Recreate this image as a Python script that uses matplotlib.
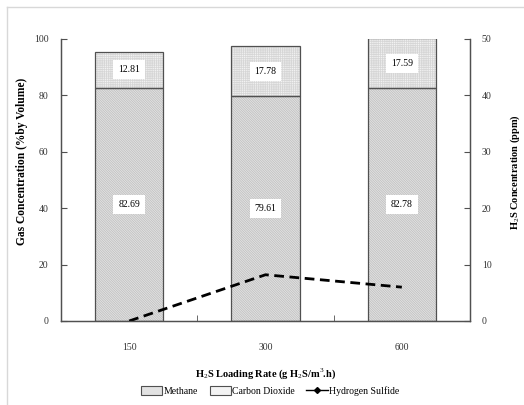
import matplotlib as mpl
import matplotlib.pyplot as plt
from matplotlib.patches import Patch
from matplotlib.lines import Line2D
from matplotlib.legend_handler import HandlerTuple

mpl.rcParams.update({
    "font.family": "serif",
    "font.serif": ["Liberation Serif", "DejaVu Serif"],
    "mathtext.fontset": "custom",
    "mathtext.rm": "Liberation Serif",
    "mathtext.bf": "Liberation Serif:bold",
    "font.size": 7,
    "hatch.linewidth": 0.5,
})

# ── Data ──
loading_rates = ["150", "300", "600"]
methane = [82.69, 79.61, 82.78]
co2 = [12.81, 17.78, 17.59]
h2s = [0.0, 8.2, 6.0]

x = list(range(len(loading_rates)))

fig = plt.figure(figsize=(5.24, 4.05), dpi=100)
ax = fig.add_axes([61/524, 1 - 321/405, (470 - 61)/524, (321 - 39)/405])
ax2 = ax.twinx()

EDGE = "#505050"
W = 0.5
CH4_STYLE = dict(color="#e2e2e2", edgecolor="#bdbdbd", hatch="\\" * 14)
CO2_STYLE = dict(color="#f3f3f3", edgecolor="#d6d6d6", hatch="+" * 9)

# hatch layer first (edge colour = hatch colour), then outline layer
ax.bar(x, methane, W, linewidth=0, **CH4_STYLE)
ax.bar(x, co2, W, bottom=methane, linewidth=0, **CO2_STYLE)
ax.bar(x, methane, W, fill=False, edgecolor=EDGE, linewidth=0.9)
ax.bar(x, co2, W, bottom=methane, fill=False, edgecolor=EDGE, linewidth=0.9)

box = dict(boxstyle="square,pad=0.5", fc="white", ec="none")
for i in x:
    ax.text(i, methane[i] / 2, f"{methane[i]:.2f}", ha="center", va="center",
            fontsize=7, bbox=box, zorder=5)
    top = min(methane[i] + co2[i], 100)
    ax.text(i, (methane[i] + top) / 2, f"{co2[i]:.2f}", ha="center", va="center",
            fontsize=7, bbox=box, zorder=5)

ax.set_xlim(-0.5, 2.5)
ax.set_ylim(0, 100)
ax.set_yticks(range(0, 101, 20))
ax.set_xticks(x)
ax.set_xticklabels(loading_rates)
ax.set_xticks([0.5, 1.5], minor=True)
ax.tick_params(axis="x", which="major", length=0, pad=16, colors="#333333")
ax.tick_params(axis="x", which="minor", direction="in", length=4, color=EDGE)
ax.tick_params(axis="y", direction="in", length=4, pad=9, colors="#333333")
ax.tick_params(axis="y", color=EDGE)

ax2.plot(x, h2s, color="black", linestyle=(0, (3.5, 2)), linewidth=2)
ax2.set_ylim(0, 50)
ax2.set_yticks(range(0, 51, 10))
ax2.tick_params(axis="y", direction="in", length=4, pad=8.5, colors="#333333")
ax2.tick_params(axis="y", color=EDGE)

for a in (ax, ax2):
    a.spines["top"].set_visible(False)
    for s in ("left", "right", "bottom"):
        a.spines[s].set_color(EDGE)
        a.spines[s].set_linewidth(0.9)

ax.set_ylabel("Gas Concentration (%by Volume)", fontsize=8.3, fontweight="bold")
ax.yaxis.set_label_coords(-0.08, 0.567)
ax2.set_ylabel("H$_2$S Concentration (ppm)", fontsize=7.5, fontweight="bold")
ax2.yaxis.set_label_coords(1.093, 0.528)
ax.set_xlabel("H$_2$S Loading Rate (g H$_2$S/m$^3$.h)", fontsize=7.5, fontweight="bold", labelpad=10)

outline = dict(fill=False, edgecolor=EDGE, linewidth=0.8)
handles = [
    (Patch(linewidth=0, **CH4_STYLE), Patch(**outline)),
    (Patch(linewidth=0, **CO2_STYLE), Patch(**outline)),
    Line2D([0], [0], color="black", marker="D", markersize=3, linewidth=1),
]
fig.legend(handles, ["Methane", "Carbon Dioxide", "Hydrogen Sulfide"],
           handler_map={tuple: HandlerTuple(ndivide=1, pad=0)},
           loc="center", bbox_to_anchor=(270/524, 1 - 391/405), ncol=3,
           frameon=False, fontsize=7, handlelength=2.2, handleheight=1.0,
           handletextpad=0.1, columnspacing=1.2)

# light frame around the chart area
fig.add_artist(Line2D([7/524, 7/524], [0, 1 - 7/405], color="#d8d8d8", linewidth=1))
fig.add_artist(Line2D([7/524, 1], [1 - 7/405, 1 - 7/405], color="#d8d8d8", linewidth=1))

fig.savefig("out.png", dpi=100)
